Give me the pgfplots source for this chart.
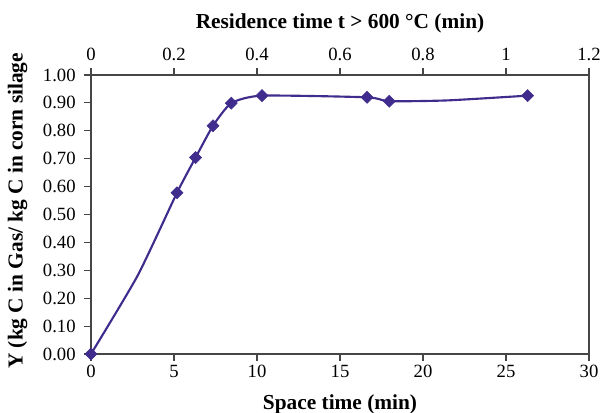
\documentclass[border=0pt]{standalone}
\usepackage{fontspec}
\setmainfont{Liberation Serif}
\usepackage{pgfplots}
\pgfplotsset{compat=1.18}
\definecolor{serie}{RGB}{64,44,140}
\definecolor{axisgray}{RGB}{70,70,70}

% space time (min) vs carbon yield; 2.81 and 21.5 are unmarked bends of the curve
\pgfplotstableread{
x     y
0     0
2.81  0.281
5.18  0.578
6.30  0.704
7.35  0.818
8.45  0.899
10.30 0.926
16.63 0.920
17.97 0.906
21.5  0.909
26.30 0.926
}\yielddata

\begin{document}
\begin{tikzpicture}
\pgfplotsset{
  every axis/.append style={
    scale only axis,
    width=373.5pt, height=209.25pt,
    tick label style={font=\fontsize{14}{16}\selectfont},
    label style={font=\bfseries\fontsize{16}{18}\selectfont},
    /pgf/number format/assume math mode=true,
    axis line style={axisgray, line width=0.8pt},
    major tick style={axisgray, line width=0.8pt},
    major tick length=5pt,
    tick align=outside,
  }
}
% secondary (top) axis
\begin{axis}[
    axis x line*=top,
    axis y line=none,
    xmin=0, xmax=1.2,
    ymin=0, ymax=1,
    xtick={0,0.2,0.4,0.6,0.8,1,1.2},
    xticklabel style={anchor=base, yshift=6pt},
    xlabel={Residence time t > 600 °C (min)},
    xlabel style={at={(axis description cs:0.5,1.165)}, anchor=base},
]
\end{axis}
% main axis
\begin{axis}[
    xmin=0, xmax=30,
    ymin=0, ymax=1,
    xtick={0,5,...,30},
    ytick={0,0.1,...,1.0},
    xtick pos=bottom,
    ytick pos=left,
    yticklabel style={xshift=-3pt, /pgf/number format/.cd, fixed, fixed zerofill, precision=2},
    xlabel={Space time (min)},
    xlabel style={at={(axis description cs:0.5,-0.2007)}, anchor=base},
    ylabel={Y (kg C in Gas/ kg C in corn silage},
    ylabel style={at={(axis description cs:-0.1476,-0.070)}, anchor=west, rotate=0},
    clip=false,
]
\addplot[serie, line width=1.6pt, smooth, tension=0.35,
    mark=square*, mark size=3.2pt,
    mark options={rotate=45, fill=serie, draw=serie, line width=0.4pt},
    mark indices={1,3,4,5,6,7,8,9,11}]
    table[x=x, y=y] {\yielddata};
\end{axis}
\pgfresetboundingbox
\useasboundingbox (-68.25pt,-44.25pt) rectangle (383.25pt,265.5pt);
\end{tikzpicture}
\end{document}
